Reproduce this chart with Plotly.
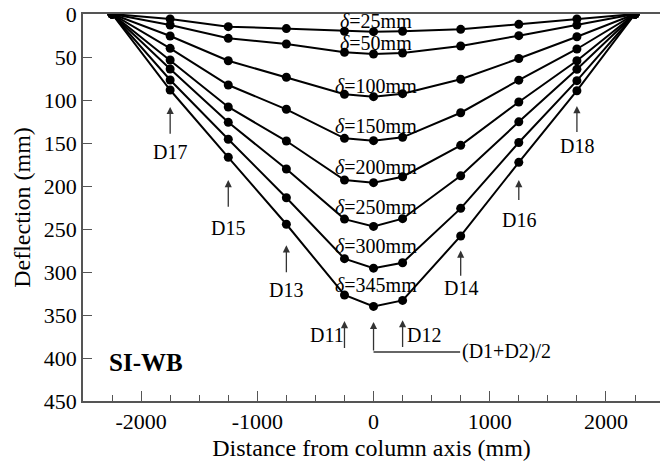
import plotly.graph_objects as go

# 测点位置 (mm) —— 距柱轴线距离
positions = [-2250, -1750, -1250, -750, -250, 0, 250, 750, 1250, 1750, 2250]

# 各级位移 δ 下的挠度 (mm)
labels = ["25", "50", "100", "150", "200", "250", "300", "345"]
defl_25 = [0, 5.8, 14.7, 17.0, 20.0, 20.5, 20.0, 17.8, 12.0, 5.8, 0]
defl_50 = [0, 12.8, 28.3, 34.9, 44.6, 46.5, 45.3, 37.2, 25.2, 12.8, 0]
defl_100 = [0, 25.6, 54.3, 73.6, 93.4, 96.1, 92.6, 75.9, 51.8, 26.4, 0]
defl_150 = [0, 39.9, 82.6, 110.8, 144.6, 147.3, 143.4, 114.8, 76.9, 40.7, 0]
defl_200 = [0, 53.5, 108.1, 147.7, 193.0, 196.1, 189.2, 152.7, 102.3, 54.3, 0]
defl_250 = [0, 64.0, 126.0, 180.2, 238.5, 247.0, 238.0, 188.2, 125.4, 64.3, 0]
defl_300 = [0, 76.7, 145.7, 213.6, 284.5, 295.5, 289.2, 226.0, 149.4, 77.5, 0]
defl_345 = [0, 88.4, 166.6, 244.5, 326.7, 340.0, 333.0, 258.1, 172.5, 89.2, 0]
series = [defl_25, defl_50, defl_100, defl_150, defl_200, defl_250, defl_300, defl_345]

x_tickvals = [-2000, -1000, 0, 1000, 2000]
x_ticktext = ["-2000", "-1000", "0", "1000", "2000"]
y_tickvals = [0, 50, 100, 150, 200, 250, 300, 350, 400, 450]

FONT = "Liberation Serif, Times New Roman, serif"
AXIS_COLOR = "#555555"

fig = go.Figure()
for ys in series:
    fig.add_trace(go.Scatter(
        x=positions, y=ys,
        mode="lines+markers",
        line=dict(color="black", width=2),
        marker=dict(color="black", size=9),
        showlegend=False,
        hoverinfo="skip",
    ))

# δ 标签
label_y = [8, 33.7, 83.7, 130.2, 178, 224.4, 269.8, 315.1]
for lab, ly in zip(labels, label_y):
    fig.add_annotation(
        x=25, y=ly, text=f"<i>δ</i>=" + lab + "mm",
        showarrow=False, font=dict(family=FONT, size=20, color="black"),
        xanchor="center", yanchor="middle",
    )

# 测点箭头: (x, 箭头尖, 箭尾, 文字x, 文字y, 文字)
gauges = [
    (-1750, 108, 141, -1750, 160, "D17"),
    (-1250, 193, 226, -1250, 249, "D15"),
    (-750, 269, 302, -750, 321, "D13"),
    (750, 275, 306, 750, 319, "D14"),
    (1250, 193, 218, 1250, 239.5, "D16"),
    (1750, 107, 139, 1750, 154, "D18"),
    (-250, 357, 390, -403, 373.5, "D11"),
    (250, 356, 389, 432, 373.5, "D12"),
]
for gx, head, tail, tx, ty, txt in gauges:
    fig.add_annotation(
        x=gx, y=head, ax=gx, ay=tail, axref="x", ayref="y",
        text="", showarrow=True, arrowhead=2, arrowsize=1.1,
        arrowwidth=1.3, arrowcolor="#333333",
    )
    fig.add_annotation(
        x=tx, y=ty, text=txt, showarrow=False,
        font=dict(family=FONT, size=20, color="black"),
        xanchor="center", yanchor="middle",
    )

# (D1+D2)/2
fig.add_annotation(
    x=0, y=358, ax=0, ay=393, axref="x", ayref="y",
    text="", showarrow=True, arrowhead=2, arrowsize=1.1,
    arrowwidth=1.3, arrowcolor="#333333",
)
fig.add_shape(type="line", x0=0, x1=745, y0=393, y1=393,
              line=dict(color="#333333", width=1.3))
fig.add_annotation(
    x=745, y=393, text="(D1+D2)/2", showarrow=False,
    font=dict(family=FONT, size=20, color="black"),
    xanchor="left", yanchor="middle",
)

fig.add_annotation(
    x=-2290, y=405, text="<b>SI-WB</b>", showarrow=False,
    font=dict(family=FONT, size=25, color="black"),
    xanchor="left", yanchor="middle",
)

fig.update_xaxes(
    range=[-2500, 2465], automargin=False,
    tickvals=x_tickvals, ticktext=x_ticktext,
    ticks="inside", ticklen=10, tickwidth=1.3, tickcolor=AXIS_COLOR,
    minor=dict(dtick=250, tick0=0, ticks="inside", ticklen=6,
               tickwidth=1.3, tickcolor=AXIS_COLOR),
    showline=True, linecolor=AXIS_COLOR, linewidth=1.5, mirror=True,
    showgrid=False, zeroline=False,
    tickfont=dict(family=FONT, size=22, color="black"),
    ticklabelstandoff=0,
    title=dict(text="Distance from column axis (mm)",
               font=dict(family=FONT, size=24, color="black"), standoff=6),
)
fig.update_yaxes(
    range=[450, 0], automargin=False,
    tickvals=y_tickvals,
    ticks="inside", ticklen=9, tickwidth=1.3, tickcolor=AXIS_COLOR,
    showline=True, linecolor=AXIS_COLOR, linewidth=1.5,
    showgrid=False, zeroline=False,
    tickfont=dict(family=FONT, size=22, color="black"),
    ticklabelstandoff=0,
    title=dict(text="Deflection (mm)",
               font=dict(family=FONT, size=24, color="black"), standoff=6),
)
fig.update_layout(
    width=660, height=472,
    margin=dict(l=83, r=0, t=14, b=71),
    plot_bgcolor="white", paper_bgcolor="white",
)

# 去掉浏览器默认的 body 边距,让图从左上角开始;隐藏工具栏
fig.write_html(
    "out.html",
    config={"displayModeBar": False},
    post_script="document.body.style.margin='0';",
)
